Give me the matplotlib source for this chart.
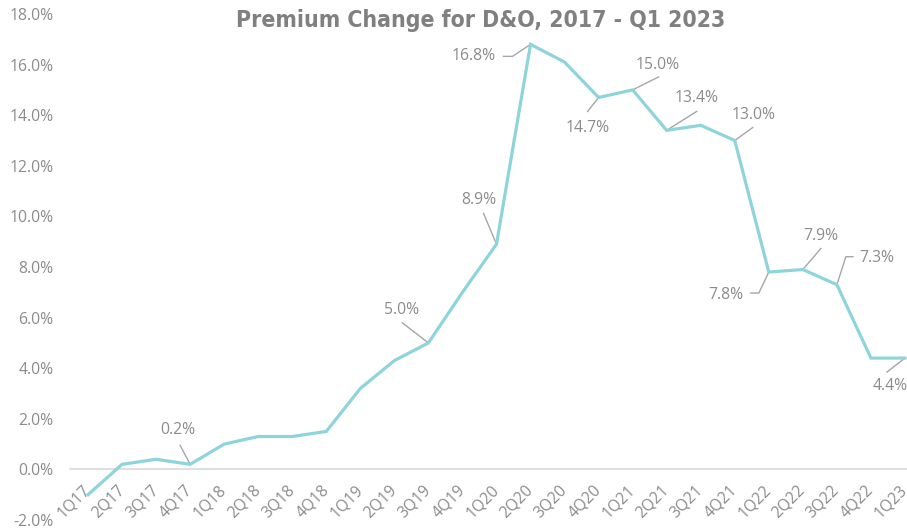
import matplotlib
matplotlib.use("Agg")
import matplotlib.pyplot as plt
import matplotlib.transforms as mtransforms
from matplotlib.ticker import FuncFormatter, MultipleLocator

quarters = ["1Q17", "2Q17", "3Q17", "4Q17", "1Q18", "2Q18", "3Q18", "4Q18",
            "1Q19", "2Q19", "3Q19", "4Q19", "1Q20", "2Q20", "3Q20", "4Q20",
            "1Q21", "2Q21", "3Q21", "4Q21", "1Q22", "2Q22", "3Q22", "4Q22", "1Q23"]
premium_change = [-1.0, 0.2, 0.4, 0.2, 1.0, 1.3, 1.3, 1.5,
                  3.2, 4.3, 5.0, 7.0, 8.9, 16.8, 16.1, 14.7,
                  15.0, 13.4, 13.6, 13.0, 7.8, 7.9, 7.3, 4.4, 4.4]
labelled_quarters = ["4Q17", "3Q19", "1Q20", "2Q20", "4Q20", "1Q21", "2Q21",
                     "4Q21", "1Q22", "2Q22", "3Q22", "1Q23"]
title = "Premium Change for D&O, 2017 - Q1 2023"

# label placement style (pixel offsets from the point, y downwards)
label_style = {
    "4Q17": ((-12, -34), [(0, 0), (-10, -19)]),
    "3Q19": ((-27, -33), [(0, 0), (-26, -20)]),
    "1Q20": ((-18, -44), [(0, 0), (-13, -31)]),
    "2Q20": ((-57, 12), [(0, 0), (-18, 12), (-27, 12)]),
    "4Q20": ((-11, 31), [(0, 0), (-11, 14)]),
    "1Q21": ((25, -25), [(0, 0), (26, -13)]),
    "2Q21": ((30, -32), [(0, 0), (30, -19)]),
    "4Q21": ((19, -25), [(0, 0), (18, -13)]),
    "1Q22": ((-43, 23), [(0, 0), (-10, 21), (-18, 21)]),
    "2Q22": ((18, -34), [(0, 0), (18, -21)]),
    "3Q22": ((40, -27), [(0, 0), (9, -28), (16, -28)]),
    "1Q23": ((-15, 28), [(0, 0), (-18, 14)]),
}

W, H = 907, 529
fig = plt.figure(figsize=(W / 100, H / 100), dpi=100)
ax = fig.add_axes([70 / W, 1 - 520 / H, (907 - 70) / W, (520 - 14) / H])

tick_font = ["Open Sans", "DejaVu Sans"]
text_grey = "#8c8c8c"
line_color = "#8ED4DB"
fs = 11.3

x = list(range(len(quarters)))
ax.plot(x, premium_change, color=line_color, lw=2.3, solid_joinstyle="miter", zorder=3)

ax.set_xlim(-0.529, 24.06)
ax.set_ylim(-2, 18)
ax.yaxis.set_major_locator(MultipleLocator(2))
ax.yaxis.set_major_formatter(FuncFormatter(lambda v, p: f"{v:.1f}%"))

for s in ["top", "right", "left"]:
    ax.spines[s].set_visible(False)
ax.spines["bottom"].set_position(("data", 0))
ax.spines["bottom"].set_color("#d9d9d9")
ax.spines["bottom"].set_linewidth(1.2)

ax.set_xticks(x)
ax.set_xticklabels(quarters)
ax.tick_params(axis="x", length=0, pad=13)
ax.tick_params(axis="y", length=0, pad=12)
for lab in ax.get_xticklabels():
    lab.set_rotation(45)
    lab.set_ha("right")
    lab.set_va("center")
    lab.set_rotation_mode("anchor")
    lab.set_fontfamily(tick_font)
    lab.set_fontsize(fs)
    lab.set_color(text_grey)
for lab in ax.get_yticklabels():
    lab.set_fontfamily(tick_font)
    lab.set_fontsize(fs)
    lab.set_color(text_grey)

for q in labelled_quarters:
    i = quarters.index(q)
    v = premium_change[i]
    (tdx, tdy), path = label_style[q]
    trans = fig.dpi_scale_trans + mtransforms.ScaledTranslation(i, v, ax.transData)
    px = [p[0] / 100 for p in path]
    py = [-p[1] / 100 for p in path]
    ax.plot(px, py, transform=trans, color="#a6a6a6", lw=1, zorder=2, clip_on=False)
    ax.annotate(f"{v:.1f}%", xy=(i, v), xytext=(tdx * 0.72, -tdy * 0.72),
                textcoords="offset points", ha="center", va="center",
                fontsize=fs, color=text_grey, family=tick_font, zorder=4)

fig.text(481 / W, 1 - 21 / H, title, ha="center", va="center",
         fontsize=16.5, fontweight="bold", fontstretch="condensed", color="#808080",
         family=["DejaVu Sans"])

fig.savefig("out.png", dpi=100)
